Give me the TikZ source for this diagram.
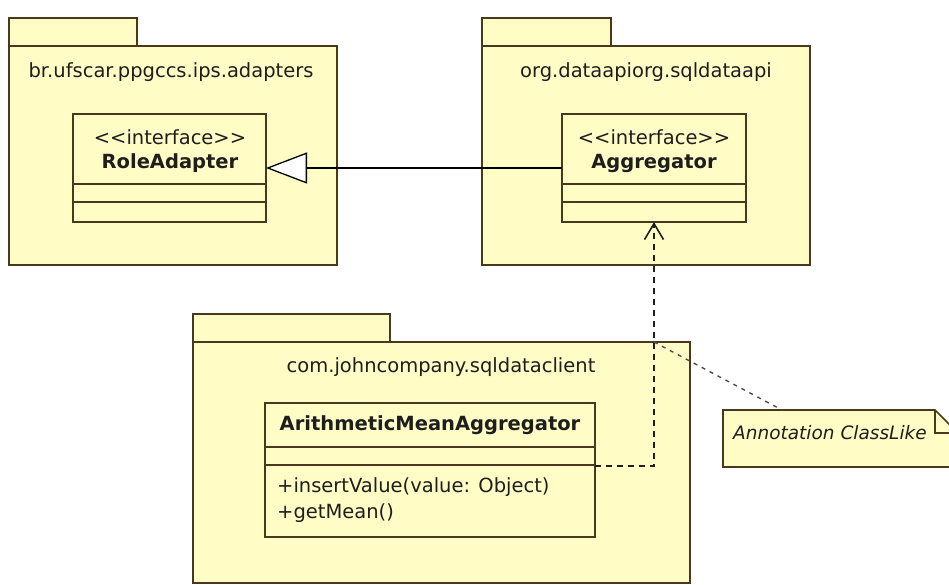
\documentclass[tikz,border=0pt]{standalone}
\usepackage{fontspec}
\setmainfont{DejaVu Sans}
\usetikzlibrary{arrows.meta}
\definecolor{pkgfill}{RGB}{255,252,198}
\definecolor{edge}{RGB}{74,56,28}
\definecolor{txt}{RGB}{30,30,30}
\newcommand{\stereo}[1]{<\kern0pt<#1>\kern0pt>}
\begin{document}
\begin{tikzpicture}[x=1pt,y=-1pt,
  box/.style={draw=edge, fill=pkgfill, line width=1.6pt, inner sep=0pt, outer sep=0pt},
  ghost/.style={inner sep=0pt, outer sep=0pt},
  lbl/.style={inner sep=0pt, text=txt, font=\fontsize{19.5}{23}\selectfont},
  blbl/.style={lbl, font=\fontsize{19.5}{23}\selectfont\bfseries},
  divline/.style={draw=edge, line width=1.6pt},
  gen/.style={draw=black, line width=1.3pt, -{Triangle[open, length=41pt, width=31pt, fill=white]}},
  dep/.style={draw=txt, line width=1.6pt, dash pattern=on 6pt off 5pt, -{Straight Barb[length=16pt, width=19pt]}},
  notelink/.style={draw=black!70, line width=1.4pt, dash pattern=on 4pt off 5pt},
  notebox/.style={draw=edge, fill=pkgfill, line width=1.6pt}
]
\clip (0,0) rectangle (949,585);
\fill[white] (0,0) rectangle (949,585);

% packages
\node[box, minimum width=128pt, minimum height=28pt] (p1tab) at (73,32) {};
\node[box, minimum width=328pt, minimum height=219pt] (p1) at (173,155.5) {};
\node[box, minimum width=129pt, minimum height=28pt] (p2tab) at (546.5,32) {};
\node[box, minimum width=328pt, minimum height=219pt] (p2) at (646,155.5) {};
\node[box, minimum width=197pt, minimum height=28pt] (p3tab) at (291.5,328) {};
\node[box, minimum width=497pt, minimum height=241pt] (p3) at (441.5,462.5) {};

\node[lbl] (p1name) at (171,72) {br.ufscar.ppgccs.ips.adapters};
\node[lbl] (p2name) at (646,72) {org.dataapiorg.sqldataapi};
\node[lbl] (p3name) at (441,367) {com.johncompany.sqldataclient};

% classes
\node[box, minimum width=193pt, minimum height=108pt] (ra) at (169.5,168) {};
\draw[divline] (ra.west |- 0,184) -- (ra.east |- 0,184);
\draw[divline] (ra.west |- 0,202) -- (ra.east |- 0,202);
\node[lbl] (rast) at (170,137) {\stereo{interface}};
\node[blbl] (raname) at (170,163) {RoleAdapter};

\node[box, minimum width=184pt, minimum height=108pt] (agg) at (654,168) {};
\draw[divline] (agg.west |- 0,184) -- (agg.east |- 0,184);
\draw[divline] (agg.west |- 0,202) -- (agg.east |- 0,202);
\node[lbl] (aggst) at (654,137) {\stereo{interface}};
\node[blbl] (aggname) at (654,163) {Aggregator};

\node[box, minimum width=330pt, minimum height=134pt] (ama) at (430,470) {};
\draw[divline] (ama.west |- 0,447) -- (ama.east |- 0,447);
\draw[divline] (ama.west |- 0,465) -- (ama.east |- 0,465);
\node[blbl] (amaname) at (430,425) {ArithmeticMeanAggregator};
\node[lbl, anchor=west] (m1) at (277,487) {+insertValue(value: Object)};
\node[lbl, anchor=west] (m2) at (277,513) {+getMean()};

% connectors
\draw[gen] (agg.west |- 0,168) -- (ra.east |- 0,168);
\draw[dep] (ama.east |- 0,466) -| (agg.south);

% note
\node[ghost, minimum width=235pt, minimum height=57pt] (note) at (840.5,438.5) {};
\draw[notebox] (note.south west) -- (note.north west) -- ([xshift=-23pt]note.north east)
  -- ([yshift=-23pt]note.north east) -- (note.south east) -- cycle;
\draw[draw=edge, line width=1.6pt] ([xshift=-23pt]note.north east) -- ([xshift=-23pt,yshift=-23pt]note.north east) -- ([yshift=-23pt]note.north east);
\node[lbl, anchor=west, font=\fontsize{18.5}{22}\selectfont\itshape] (notetext) at (733,433) {Annotation ClassLike};
\coordinate (nl) at (agg.south |- p3.north);
\draw[notelink] (nl) -- ([xshift=59pt]note.north west);
\end{tikzpicture}
\end{document}
